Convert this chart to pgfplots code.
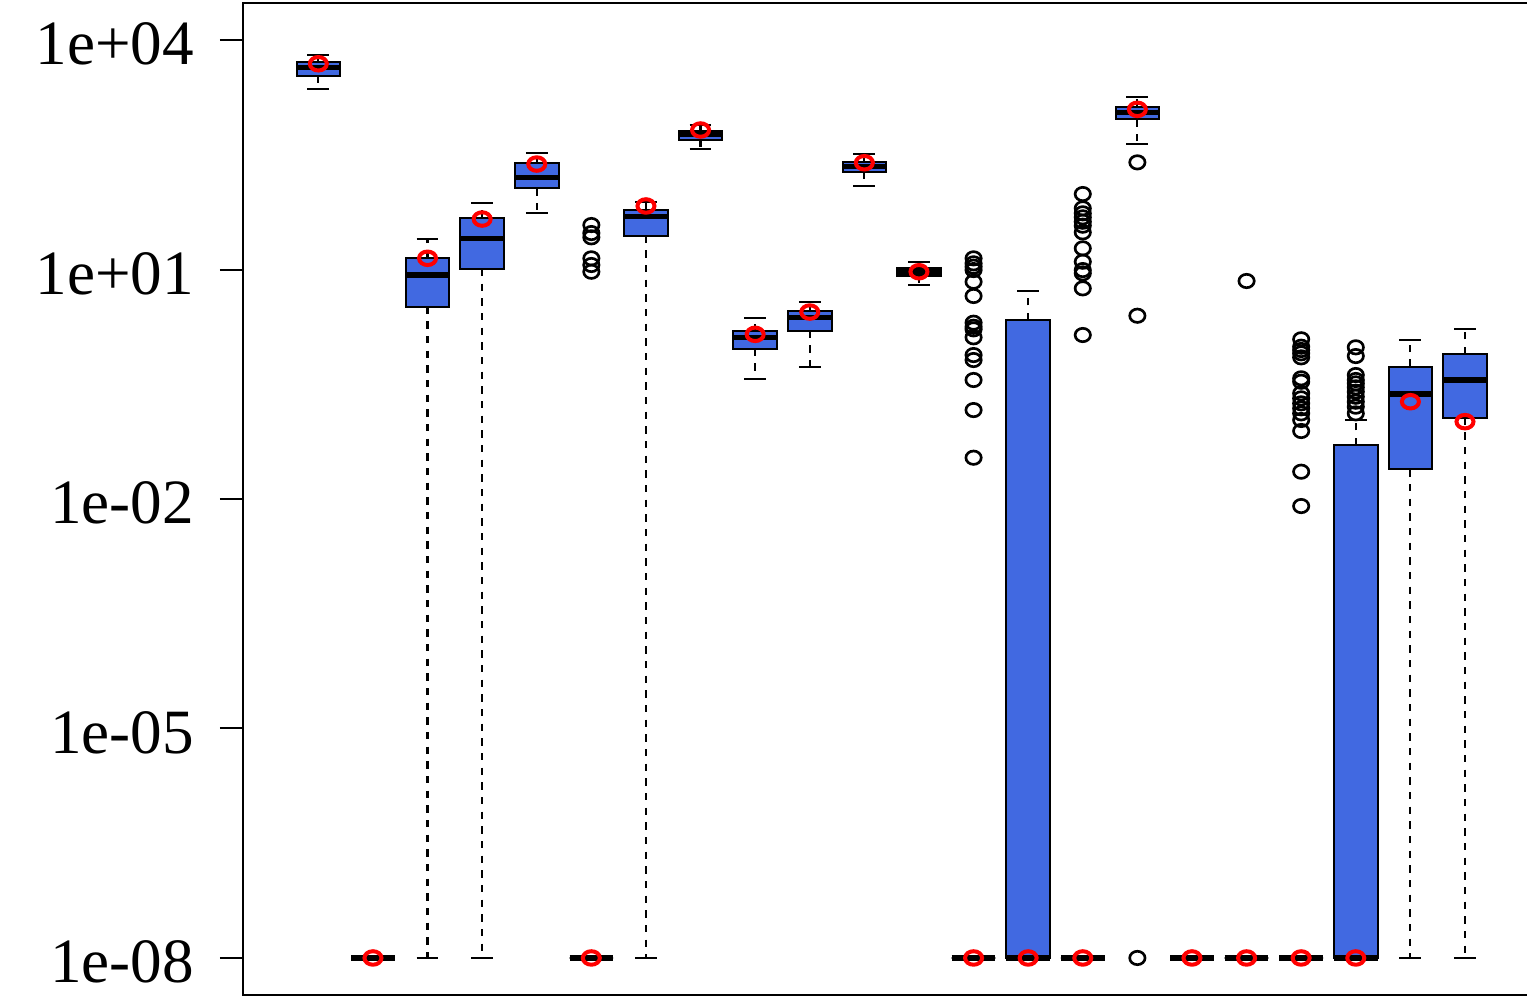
\documentclass[border=0pt]{standalone}
\usepackage{fontspec}
\setmainfont{Liberation Serif}
\usepackage{pgfplots}
\pgfplotsset{compat=1.18}
\usepgfplotslibrary{statistics}
\definecolor{rblue}{RGB}{65,105,225}
\definecolor{rred}{RGB}{255,0,0}
\pgfplotsset{
  bx/.style={
    boxplot/draw direction=y,
    boxplot/box extend=0.8,
    boxplot/whisker extend=0.4,
    boxplot/every box/.style={fill=rblue, draw=black, line width=0.6bp},
    boxplot/every median/.style={draw=black, line width=1.6bp},
    boxplot/draw/lower whisker/.code={%
      \draw[black, line width=0.65bp, dash pattern=on 2.2bp off 2.2bp]
        (boxplot box cs:\pgfplotsboxplotvalue{lower quartile},0.5) --
        (boxplot box cs:\pgfplotsboxplotvalue{lower whisker},0.5);
      \draw[black, line width=0.65bp, solid]
        (boxplot whisker cs:\pgfplotsboxplotvalue{lower whisker},0) --
        (boxplot whisker cs:\pgfplotsboxplotvalue{lower whisker},1);
    },
    boxplot/draw/upper whisker/.code={%
      \draw[black, line width=0.65bp, dash pattern=on 2.2bp off 2.2bp]
        (boxplot box cs:\pgfplotsboxplotvalue{upper quartile},0.5) --
        (boxplot box cs:\pgfplotsboxplotvalue{upper whisker},0.5);
      \draw[black, line width=0.65bp, solid]
        (boxplot whisker cs:\pgfplotsboxplotvalue{upper whisker},0) --
        (boxplot whisker cs:\pgfplotsboxplotvalue{upper whisker},1);
    },
  },
}
\begin{document}
\begin{tikzpicture}
\begin{axis}[
  at={(72.9bp,0.9bp)}, anchor=south west,
  scale only axis, width=389.2bp, height=297.6bp,
  xmin=-0.38, xmax=23.38,
  ymode=log, ymin=3.28e-9, ymax=3.05e4,
  xtick=\empty,
  ytick={1e-8,1e-5,1e-2,1e1,1e4},
  yticklabels={1e-08,1e-05,1e-02,1e+01,1e+04},
  yminorticks=false,
  tick align=outside, ytick pos=left,
  major tick length=6.9bp,
  axis line style={line width=0.6bp},
  every tick/.style={black, line width=0.6bp},
  yticklabel style={font=\fontsize{19}{22}\selectfont, anchor=east, inner sep=0pt, xshift=-7.6bp, yshift=-1.2bp},
]
% boxes: position, lower whisker, Q1, median, Q3, upper whisker
\addplot[bx, boxplot prepared={draw position=1, lower whisker=2286, lower quartile=3381, median=4345, upper quartile=5105, upper whisker=6310}] coordinates {};
\addplot[bx, boxplot prepared={draw position=2, lower whisker=1e-8, lower quartile=1e-8, median=1e-8, upper quartile=1e-8, upper whisker=1e-8}] coordinates {};
\addplot[bx, boxplot prepared={draw position=3, lower whisker=1e-8, lower quartile=3.266, median=8.47, upper quartile=14.26, upper whisker=24.83}] coordinates {};
\addplot[bx, boxplot prepared={draw position=4, lower whisker=1e-8, lower quartile=10.16, median=25.59, upper quartile=47.53, upper whisker=73.28}] coordinates {};
\addplot[bx, boxplot prepared={draw position=5, lower whisker=54.33, lower quartile=115.1, median=158.5, upper quartile=244.3, upper whisker=336.5}] coordinates {};
\addplot[bx, boxplot prepared={draw position=6, lower whisker=1e-8, lower quartile=1e-8, median=1e-8, upper quartile=1e-8, upper whisker=1e-8}] coordinates {};
\addplot[bx, boxplot prepared={draw position=7, lower whisker=1e-8, lower quartile=27.67, median=49.09, upper quartile=59.98, upper whisker=76.91}] coordinates {};
\addplot[bx, boxplot prepared={draw position=8, lower whisker=379.3, lower quartile=493.3, median=584.8, upper quartile=645.7, upper whisker=767.4}] coordinates {};
\addplot[bx, boxplot prepared={draw position=9, lower whisker=0.3707, lower quartile=0.9226, median=1.300, upper quartile=1.556, upper whisker=2.301}] coordinates {};
\addplot[bx, boxplot prepared={draw position=10, lower whisker=0.5272, lower quartile=1.585, median=2.360, upper quartile=2.871, upper whisker=3.793}] coordinates {};
\addplot[bx, boxplot prepared={draw position=11, lower whisker=123.6, lower quartile=188.4, median=220.8, upper quartile=256.4, upper whisker=320.6}] coordinates {};
\addplot[bx, boxplot prepared={draw position=12, lower whisker=6.209, lower quartile=8.222, median=9.268, upper quartile=10.38, upper whisker=12.42}] coordinates {};
\addplot[bx, boxplot prepared={draw position=13, lower whisker=1e-8, lower quartile=1e-8, median=1e-8, upper quartile=1e-8, upper whisker=1e-8}] coordinates {};
\addplot[bx, boxplot prepared={draw position=14, lower whisker=1e-8, lower quartile=1e-8, median=1e-8, upper quartile=2.188, upper whisker=5.236}] coordinates {};
\addplot[bx, boxplot prepared={draw position=15, lower whisker=1e-8, lower quartile=1e-8, median=1e-8, upper quartile=1e-8, upper whisker=1e-8}] coordinates {};
\addplot[bx, boxplot prepared={draw position=16, lower whisker=437.5, lower quartile=918.3, median=1122, upper quartile=1343, upper whisker=1782}] coordinates {};
\addplot[bx, boxplot prepared={draw position=17, lower whisker=1e-8, lower quartile=1e-8, median=1e-8, upper quartile=1e-8, upper whisker=1e-8}] coordinates {};
\addplot[bx, boxplot prepared={draw position=18, lower whisker=1e-8, lower quartile=1e-8, median=1e-8, upper quartile=1e-8, upper whisker=1e-8}] coordinates {};
\addplot[bx, boxplot prepared={draw position=19, lower whisker=1e-8, lower quartile=1e-8, median=1e-8, upper quartile=1e-8, upper whisker=1e-8}] coordinates {};
\addplot[bx, boxplot prepared={draw position=20, lower whisker=1e-8, lower quartile=1e-8, median=1e-8, upper quartile=0.05082, upper whisker=0.1079}] coordinates {};
\addplot[bx, boxplot prepared={draw position=21, lower whisker=1e-8, lower quartile=0.02443, median=0.2360, upper quartile=0.5370, upper whisker=1.197}] coordinates {};
\addplot[bx, boxplot prepared={draw position=22, lower whisker=1e-8, lower quartile=0.1156, median=0.3597, upper quartile=0.7852, upper whisker=1.652}] coordinates {};
% outliers
\addplot[only marks, mark=o, mark size=2.15bp, mark options={black, line width=0.8bp, xscale=1.07, yscale=0.935}] coordinates {
 (6,38.19) (6,29.99) (6,26.36) (6,14.0) (6,11.46) (6,9.354)
 (13,14.0) (13,12.05) (13,10.89) (13,9.840) (13,6.918) (13,4.508) (13,2.018) (13,1.786) (13,1.652) (13,1.300) (13,0.7621) (13,0.6561) (13,0.3597) (13,0.1455) (13,0.03467)
 (15,97.05) (15,63.10) (15,54.33) (15,48.08) (15,42.17) (15,37.41) (15,30.62) (15,18.92) (15,12.65) (15,9.840) (15,8.913) (15,5.675) (15,1.393)
 (16,251.8) (16,2.489) (16,1e-8)
 (18,7.079)
 (19,1.225) (19,0.9795) (19,0.8872) (19,0.8035) (19,0.7112) (19,0.3784) (19,0.3412) (19,0.2410) (19,0.2070) (19,0.1782) (19,0.1535) (19,0.1318) (19,0.1079) (19,0.07745) (19,0.02275) (19,0.008091)
 (20,0.9616) (20,0.7396) (20,0.4178) (20,0.3597) (20,0.3251) (20,0.2884) (20,0.2529) (20,0.2173) (20,0.1871) (20,0.1611) (20,0.1318)
};
% means
\addplot[only marks, mark=o, mark size=2.3bp, mark options={rred, line width=1.2bp, xscale=1.11, yscale=0.88}] coordinates {
 (1,4898) (2,1e-8) (3,14.03) (4,45.71) (5,239.3) (6,1e-8) (7,67.76) (8,666.8) (9,1.422) (10,2.780) (11,248.9)
 (12,9.354) (13,1e-8) (14,1e-8) (15,1e-8) (16,1242) (17,1e-8) (18,1e-8) (19,1e-8) (20,1e-8) (21,0.1871) (22,0.1026)
};
\end{axis}
\pgfresetboundingbox
\useasboundingbox (0,0) rectangle (458.1bp,299.4bp);
\end{tikzpicture}
\end{document}
